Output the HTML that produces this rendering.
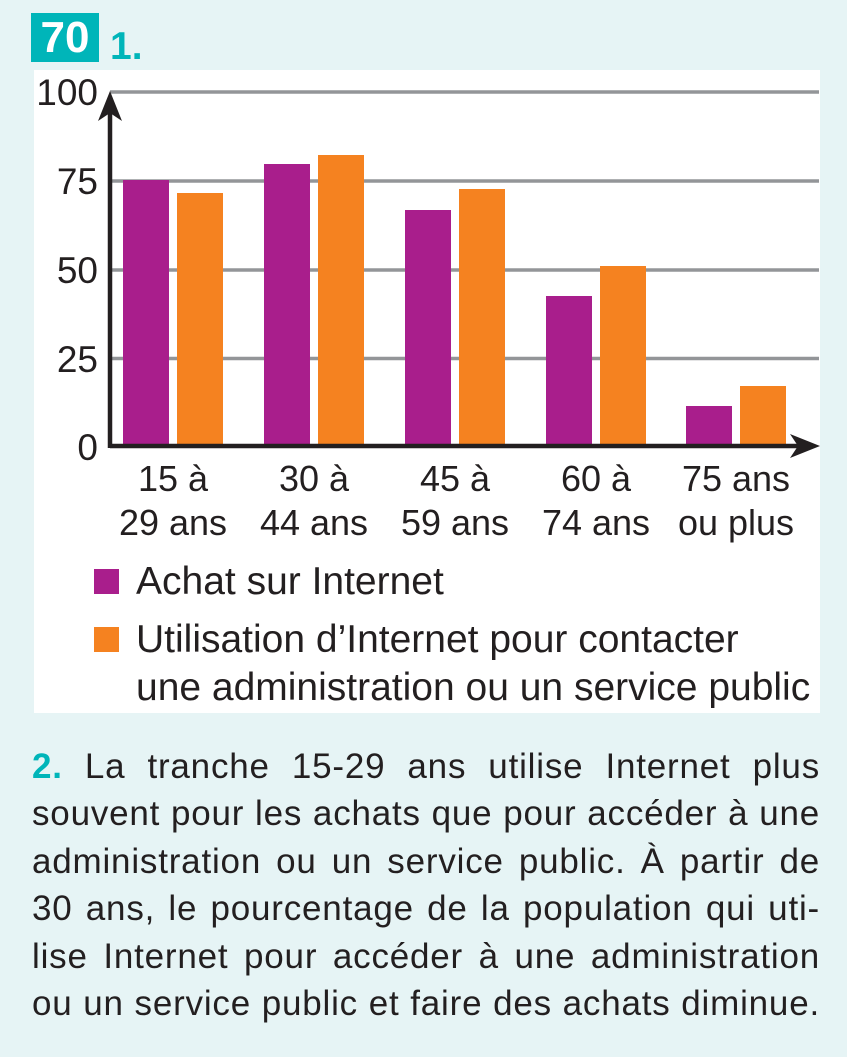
<!DOCTYPE html>
<html>
<head>
<meta charset="utf-8">
<style>
  html, body { margin:0; padding:0; }
  body { width:847px; height:1057px; background:#e6f4f5; position:relative; overflow:hidden;
         font-family:"Liberation Sans", sans-serif; color:#231f20; }
  .badge { position:absolute; left:31px; top:13px; width:68px; height:49px; background:#00b5b9;
           color:#fff; font-weight:bold; font-size:44px; line-height:49px; text-align:center; }
  .q1 { position:absolute; left:110px; top:25px; color:#00b5b9; font-weight:bold; font-size:39px; line-height:44px; }
  .panel { position:absolute; left:34px; top:70px; width:786px; height:643px; background:#fff; }
  svg { position:absolute; left:0; top:0; }
  .para { position:absolute; left:32px; top:743px; width:788px; font-size:35px; letter-spacing:0.8px; }
  .para div { height:47.4px; line-height:47.4px; white-space:nowrap; text-align:justify; text-align-last:justify; }
  .para b { color:#00b5b9; }
</style>
</head>
<body>
<div class="badge">70</div>
<div class="q1">1.</div>
<div class="panel"></div>
<svg width="847" height="1057" viewBox="0 0 847 1057" xmlns="http://www.w3.org/2000/svg">
  <g stroke="#939598" stroke-width="3.5">
    <line x1="110" y1="92" x2="819" y2="92"/>
    <line x1="110" y1="181" x2="819" y2="181"/>
    <line x1="110" y1="270" x2="819" y2="270"/>
    <line x1="110" y1="358.5" x2="819" y2="358.5"/>
  </g>
  <g fill="#a91e8c">
    <rect x="123" y="180" width="46" height="266"/>
    <rect x="264" y="164" width="46" height="282"/>
    <rect x="405" y="210" width="46" height="236"/>
    <rect x="546" y="296" width="46" height="150"/>
    <rect x="686" y="406" width="46" height="40"/>
  </g>
  <g fill="#f58220">
    <rect x="177" y="193" width="46" height="253"/>
    <rect x="318" y="155" width="46" height="291"/>
    <rect x="459" y="189" width="46" height="257"/>
    <rect x="600" y="266" width="46" height="180"/>
    <rect x="740" y="386" width="46" height="60"/>
  </g>
  <g stroke="#231f20" stroke-width="4.5" fill="none">
    <line x1="110" y1="446" x2="800" y2="446"/>
    <line x1="110" y1="448" x2="110" y2="110"/>
  </g>
  <path d="M110 91 L122 121 L110 113 L98 121 Z" fill="#231f20"/>
  <path d="M820 446 L790 434 L798 446 L790 458 Z" fill="#231f20"/>
  <g font-family="Liberation Sans, sans-serif" font-size="37" fill="#231f20" text-anchor="end">
    <text x="98" y="105">100</text>
    <text x="98" y="194">75</text>
    <text x="98" y="283">50</text>
    <text x="98" y="372">25</text>
    <text x="98" y="460">0</text>
  </g>
  <g font-family="Liberation Sans, sans-serif" font-size="36" fill="#231f20" text-anchor="middle">
    <text x="173" y="491">15 à</text><text x="173" y="535">29 ans</text>
    <text x="314" y="491">30 à</text><text x="314" y="535">44 ans</text>
    <text x="455" y="491">45 à</text><text x="455" y="535">59 ans</text>
    <text x="596" y="491">60 à</text><text x="596" y="535">74 ans</text>
    <text x="736" y="491">75 ans</text><text x="736" y="535">ou plus</text>
  </g>
  <rect x="94" y="569" width="25" height="25" fill="#a91e8c"/>
  <rect x="94" y="627" width="25" height="25" fill="#f58220"/>
  <g font-family="Liberation Sans, sans-serif" font-size="39" fill="#231f20">
    <text x="136" y="594">Achat sur Internet</text>
    <text x="136" y="652">Utilisation d’Internet pour contacter</text>
    <text x="136" y="700">une administration ou un service public</text>
  </g>
</svg>
<div class="para">
  <div><b>2.</b> La tranche 15-29 ans utilise Internet plus</div>
  <div>souvent pour les achats que pour accéder à une</div>
  <div>administration ou un service public. À partir de</div>
  <div>30 ans, le pourcentage de la population qui uti-</div>
  <div>lise Internet pour accéder à une administration</div>
  <div>ou un service public et faire des achats diminue.</div>
</div>
</body>
</html>
